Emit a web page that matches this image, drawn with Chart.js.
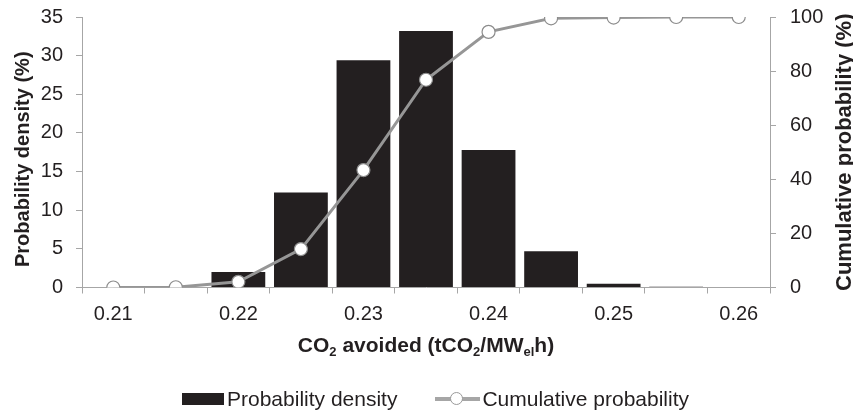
<!DOCTYPE html>
<html>
<head>
<meta charset="utf-8">
<title>CO2 avoided distribution</title>
<script src="https://cdn.jsdelivr.net/npm/chart.js@4.4.1/dist/chart.umd.min.js"></script>
<style>
  html, body { margin: 0; padding: 0; background: #fff; }
  #wrap { position: relative; width: 853px; height: 413px; }
  #legend {
    position: absolute; left: 182px; top: 387px;
    display: flex; align-items: center;
    font: 21px "Liberation Sans", Arial, sans-serif; line-height: 24px;
    color: #231f20; white-space: nowrap;
  }
  .box { display: inline-block; width: 42px; height: 12px; background: #231f20; margin-right: 3px; }
  .ln { position: relative; display: inline-block; width: 45px; height: 4px; background: #a6a6a6; margin-left: 38px; margin-right: 2px; }
  .ln i { position: absolute; left: 15px; top: -5px; width: 11px; height: 11px; border: 1px solid #999; border-radius: 50%; background: #fff; }
</style>
</head>
<body>
<div id="wrap">
  <canvas id="chart" width="853" height="413"></canvas>
  <div id="legend">
    <span class="box"></span><span>Probability density</span>
    <span class="ln"><i></i></span><span>Cumulative probability</span>
  </div>
</div>
<script>
// data
const categories = ['0.21', '0.215', '0.22', '0.225', '0.23', '0.235', '0.24', '0.245', '0.25', '0.255', '0.26'];
const densityValues = [0, 0, 2.0, 12.3, 29.4, 33.2, 17.8, 4.7, 0.5, 0.1, 0];
const cumulativeValues = [0, 0.1, 2.1, 14.2, 43.4, 76.8, 94.5, 99.5, 99.8, 100, 100];
const densityAxis = { min: 0, max: 35, step: 5 };
const cumulativeAxis = { min: 0, max: 100, step: 20 };

const FONT = '"Liberation Sans", Arial, sans-serif';
const TEXT = '#231f20';
const AXIS = '#a6a6a6';

// axis titles drawn by hand (subscripts, bottom-to-top right title)
const axisTitles = {
    id: 'axisTitles',
    afterDraw(chart) {
        const ctx = chart.ctx;
        const area = chart.chartArea;
        const midY = (area.top + area.bottom) / 2;
        ctx.save();
        ctx.fillStyle = TEXT;
        ctx.textAlign = 'center';
        ctx.textBaseline = 'middle';

        ctx.save();
        ctx.font = 'bold 20px ' + FONT;
        ctx.translate(23, midY + 7);
        ctx.rotate(-Math.PI / 2);
        ctx.fillText('Probability density (%)', 0, 0);
        ctx.restore();

        ctx.save();
        ctx.font = 'bold 22px ' + FONT;
        ctx.translate(845, midY);
        ctx.rotate(-Math.PI / 2);
        ctx.fillText('Cumulative probability (%)', 0, 0);
        ctx.restore();

        // x title with subscripts
        const parts = [
            ['CO', false], ['2', true], [' avoided (tCO', false], ['2', true],
            ['/MW', false], ['el', true], ['h)', false]
        ];
        const big = 'bold 21px ' + FONT;
        const small = 'bold 13px ' + FONT;
        let total = 0;
        parts.forEach(([t, sub]) => { ctx.font = sub ? small : big; total += ctx.measureText(t).width; });
        let x = (area.left + area.right) / 2 - total / 2;
        const base = 352;
        ctx.textAlign = 'left';
        ctx.textBaseline = 'alphabetic';
        parts.forEach(([t, sub]) => {
            ctx.font = sub ? small : big;
            ctx.fillText(t, x, sub ? base + 4 : base);
            x += ctx.measureText(t).width;
        });
        ctx.restore();
    }
};

// fixed axis boxes so the plot area lands where the original has it
function fixY(width) {
    return s => {
        s.width = width;
        s.paddingTop = 0;
        s.paddingBottom = 0;
    };
}

new Chart(document.getElementById('chart'), {
    data: {
        labels: categories,
        datasets: [
            {
                type: 'line',
                label: 'Cumulative probability',
                data: cumulativeValues,
                yAxisID: 'y2',
                order: 0,
                borderColor: '#969696',
                borderWidth: 3,
                tension: 0,
                pointRadius: 6.5,
                pointBackgroundColor: '#fff',
                pointBorderColor: '#8c8c8c',
                pointBorderWidth: 1.2
            },
            {
                type: 'bar',
                label: 'Probability density',
                data: densityValues,
                yAxisID: 'y',
                order: 1,
                backgroundColor: TEXT,
                barPercentage: 0.86,
                categoryPercentage: 1
            }
        ]
    },
    options: {
        responsive: false,
        animation: false,
        layout: { padding: { top: 17, left: 0, right: 0, bottom: 0 } },
        plugins: { legend: { display: false }, tooltip: { enabled: false } },
        scales: {
            x: {
                type: 'category',
                offset: true,
                grid: { offset: true, drawOnChartArea: false, tickLength: 6, color: AXIS },
                border: { color: AXIS },
                ticks: {
                    autoSkip: false, maxRotation: 0, padding: 9, color: TEXT,
                    font: { family: FONT, size: 20 },
                    callback: function (v, i) { return i % 2 === 0 ? this.getLabelForValue(v) : ''; }
                },
                afterFit: s => { s.height = 125.5; s.paddingLeft = 0; s.paddingRight = 0; }
            },
            y: {
                position: 'left',
                min: densityAxis.min, max: densityAxis.max,
                grid: { drawOnChartArea: false, tickLength: 6, color: AXIS },
                border: { color: AXIS },
                ticks: { stepSize: densityAxis.step, padding: 13, color: TEXT, font: { family: FONT, size: 20 } },
                afterFit: fixY(82)
            },
            y2: {
                position: 'right',
                min: cumulativeAxis.min, max: cumulativeAxis.max,
                grid: { drawOnChartArea: false, tickLength: 6, color: AXIS },
                border: { color: AXIS },
                ticks: { stepSize: cumulativeAxis.step, padding: 14, color: TEXT, font: { family: FONT, size: 20 } },
                afterFit: fixY(83)
            }
        }
    },
    plugins: [axisTitles]
});
</script>
</body>
</html>
